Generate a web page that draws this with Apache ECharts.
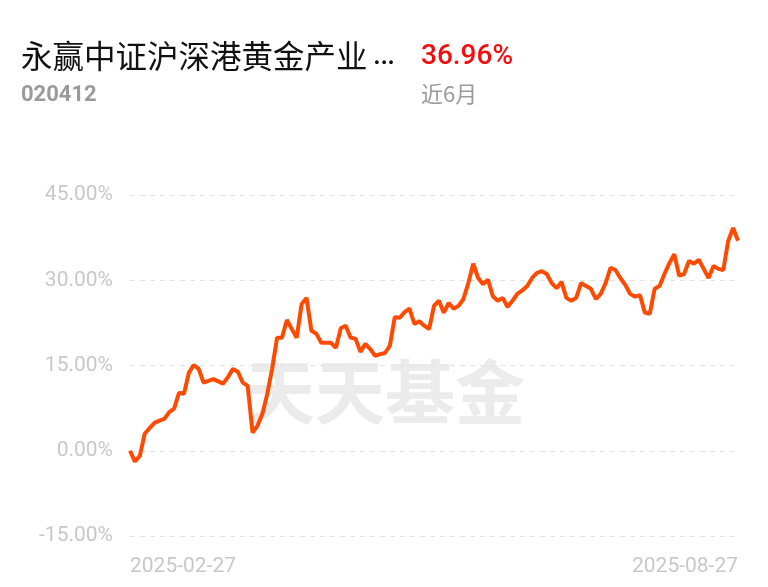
<!DOCTYPE html>
<html>
<head>
<meta charset="utf-8">
<script src="https://cdn.jsdelivr.net/npm/echarts@6/dist/echarts.min.js"></script>
<style>html,body{margin:0;padding:0;background:#fff}#c{width:768px;height:587px}</style>
</head>
<body>
<div id="c"></div>
<script>
var fundName = '永赢中证沪深港黄金产业';
var ellipsis = '…';
var fundCode = '020412';
var periodReturn = '36.96%';
var periodLabel = '近6月';
var startDate = '2025-02-27';
var endDate = '2025-08-27';
var holidays = ['2025-04-04','2025-05-01','2025-05-02','2025-05-05','2025-06-02'];
var yTicks = [-15, 0, 15, 30, 45];
var returns = [
 0, -1.9, -0.9, 3.0, 4.0, 4.9, 5.3, 5.6, 6.8, 7.4,
 10.2, 10.0, 13.7, 15.1, 14.4, 12.0, 12.3, 12.6, 12.2, 11.8,
 13.0, 14.4, 13.9, 12.0, 11.4, 3.2, 4.4, 6.5, 10.0, 14.5,
 19.9, 19.9, 23.0, 21.4, 19.9, 25.8, 26.9, 21.1, 20.6, 19.0,
 19.0, 19.0, 18.1, 21.6, 22.0, 19.9, 19.7, 17.4, 18.8, 17.9,
 16.7, 17.0, 17.2, 18.5, 23.5, 23.4, 24.4, 25.0, 22.3, 22.8,
 22.0, 21.4, 25.5, 26.4, 24.3, 26.0, 25.0, 25.5, 26.7, 29.5,
 32.9, 30.4, 29.3, 30.1, 27.2, 26.4, 26.9, 25.3, 26.4, 27.6,
 28.2, 29.0, 30.4, 31.3, 31.6, 31.1, 29.5, 28.6, 29.7, 26.9,
 26.4, 26.9, 29.5, 29.0, 28.5, 26.7, 27.6, 29.5, 32.2, 31.8,
 30.4, 29.2, 27.6, 27.1, 27.4, 24.3, 24.1, 28.5, 29.0, 31.1,
 33.0, 34.6, 30.8, 31.1, 33.4, 32.9, 33.6, 32.0, 30.4, 32.5,
 32.0, 31.8, 36.9, 39.2, 36.96
];

function fmt(d){
  var m = d.getMonth()+1, day = d.getDate();
  return d.getFullYear()+'-'+(m<10?'0':'')+m+'-'+(day<10?'0':'')+day;
}
var dates = [];
(function(){
  var d = new Date(startDate+'T00:00:00');
  var end = new Date(endDate+'T00:00:00');
  while (d <= end) {
    var s = fmt(d), wd = d.getDay();
    if (wd !== 0 && wd !== 6 && holidays.indexOf(s) < 0) dates.push(s);
    d.setDate(d.getDate()+1);
  }
})();
var n = returns.length;
var cats = dates.slice(0, n);
cats[n-1] = endDate;

var chart = echarts.init(document.getElementById('c'), null, {renderer:'canvas'});
var font = 'Roboto, "Noto Sans", "Noto Sans CJK SC", sans-serif';
var cjk = '"Noto Sans CJK SC", sans-serif';
chart.setOption({
  animation: false,
  backgroundColor: '#ffffff',
  grid: {left: 130, right: 30, top: 195, bottom: 51, containLabel: false},
  xAxis: {
    type: 'category',
    data: cats,
    boundaryGap: false,
    axisLine: {show: false},
    axisTick: {show: false},
    splitLine: {show: false},
    axisLabel: {
      interval: function(i){ return i === 0 || i === n-1; },
      color: '#c8c8c8', fontSize: 21, fontFamily: font,
      margin: 20,
      alignMinLabel: 'left', alignMaxLabel: 'right'
    }
  },
  yAxis: {
    type: 'value',
    min: yTicks[0], max: yTicks[yTicks.length-1], interval: 15,
    axisLine: {show: false},
    axisTick: {show: false},
    splitLine: {show: true, lineStyle: {color: '#e3e3e3', type: [5,5], width: 1}},
    axisLabel: {
      color: '#c8c8c8', fontSize: 21, fontFamily: font, margin: 17,
      formatter: function(v){ return v.toFixed(2)+'%'; }
    }
  },
  graphic: [
    {type:'text', left: 21, top: 39, z: 10, style:{
      text: '{a|' + fundName + '}{b|' + ellipsis + '}',
      rich: {
        a: {fontSize: 31.5, fill:'#111', fontFamily: cjk},
        b: {fontSize: 34, fill:'#111', fontFamily: font, padding: [0,0,0,5]}
      }
    }},
    {type:'text', left: 421, top: 43, z: 10, style:{text: periodReturn, fontSize: 28, fontWeight: 500, fill:'#f50d0d', fontFamily: font}},
    {type:'text', left: 21, top: 84, z: 10, style:{text: fundCode, fontSize: 22, fontWeight: 'bold', fill:'#9a9a9a', fontFamily: font}},
    {type:'text', left: 421, top: 83, z: 10, style:{text: periodLabel, fontSize: 22, fill:'#9a9a9a', fontFamily: cjk}},
    {type:'text', left: 245, top: 357, z: 0, silent: true, style:{text:'天天基金', fontSize: 70, fontWeight:'bold', fill:'#ebebeb', fontFamily: cjk}}
  ],
  series: [{
    type: 'line',
    data: returns,
    showSymbol: false,
    symbol: 'none',
    z: 5,
    lineStyle: {color: '#ff4a00', width: 4},
    itemStyle: {color: '#ff4a00'}
  }]
});
</script>
</body>
</html>
